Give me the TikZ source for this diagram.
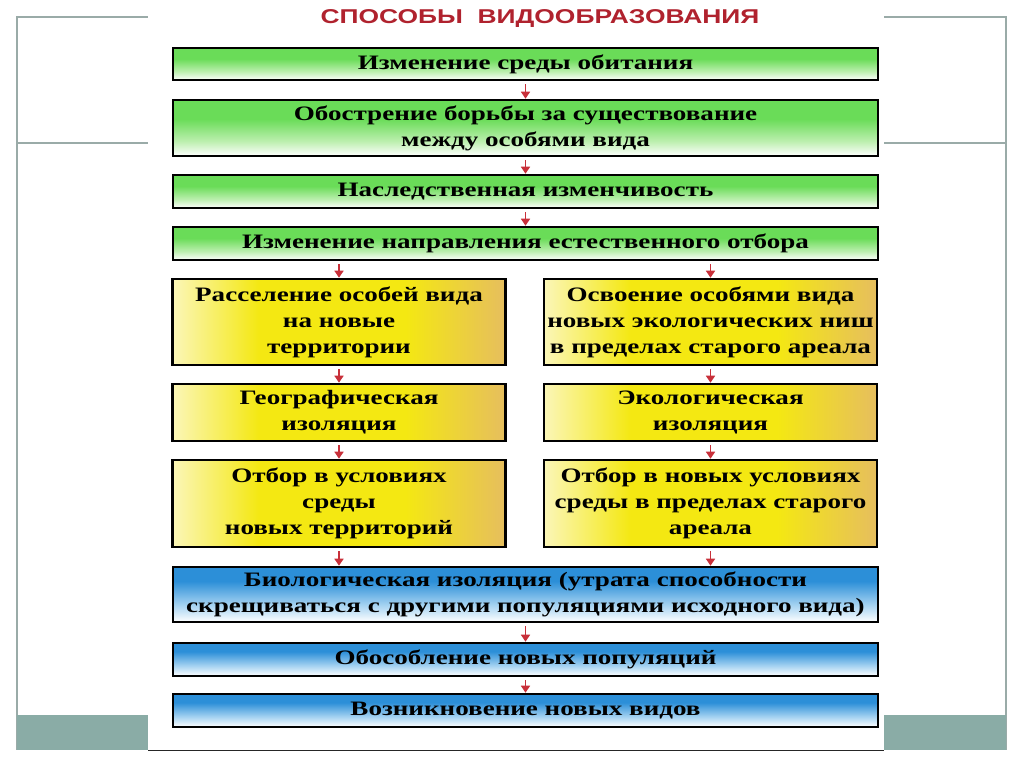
\documentclass[tikz,border=0pt]{standalone}
\usepackage{fontspec}
\setmainfont{Liberation Serif}
\newfontfamily\titlefont[FakeStretch=1.32]{Liberation Sans}
\newfontfamily\boxfont[FakeStretch=1.32]{Liberation Serif}
\usetikzlibrary{arrows.meta}
\definecolor{frameg}{HTML}{9AABA8}
\definecolor{bandg}{HTML}{8AACA6}
\definecolor{titlered}{HTML}{B0222E}
\definecolor{arrred}{HTML}{C8303A}
\definecolor{grA}{HTML}{6ADC58}
\definecolor{grB}{HTML}{BDEFB0}
\definecolor{blA}{HTML}{2C8FD8}
\definecolor{blB}{HTML}{A8D4F2}
\definecolor{yA}{HTML}{FBF6B8}
\definecolor{yB}{HTML}{F4E812}
\definecolor{yC}{HTML}{E6BE5E}
\pgfdeclareverticalshading{greensh}{100bp}{color(0bp)=(white); color(25bp)=(white); color(38bp)=(grB); color(58bp)=(grA); color(75bp)=(grA); color(100bp)=(grA)}
\pgfdeclareverticalshading{bluesh}{100bp}{color(0bp)=(white); color(25bp)=(white); color(40bp)=(blB); color(62bp)=(blA); color(75bp)=(blA); color(100bp)=(blA)}
\pgfdeclarehorizontalshading{yelsh}{100bp}{color(0bp)=(yA); color(25bp)=(yA); color(38bp)=(yB); color(60bp)=(yB); color(75bp)=(yC); color(100bp)=(yC)}
\tikzset{
  box/.style={draw=black, line width=2.6pt, align=center, inner sep=0pt,
    font=\boxfont\fontsize{20.5}{26}\selectfont\bfseries},
  gbox/.style={box, shading=greensh, minimum width=705pt},
  bbox/.style={box, shading=bluesh, minimum width=705pt},
  ybox/.style={box, shading=yelsh, minimum width=333pt},
  arr/.style={draw=arrred, line width=1.6pt, -{Triangle[length=7pt,width=9pt]}, shorten <=3pt},
  frameline/.style={draw=frameg, line width=1.2pt}
}
\begin{document}
\begin{tikzpicture}[x=1pt,y=-1pt]
\useasboundingbox (0,0) rectangle (1024,768);
\fill[white] (0,0) rectangle (1024,768);
% slide frame
\draw[frameline] (148,17) -- (17,17) -- (17,750);
\draw[frameline] (17,143) -- (148,143);
\draw[frameline] (884,17) -- (1006,17) -- (1006,750);
\draw[frameline] (884,143) -- (1006,143);
\fill[bandg] (17,715) rectangle (148,750);
\fill[bandg] (884,715) rectangle (1006,750);
% picture area
\fill[white] (148,0) rectangle (884,750);
\draw[black!85, line width=1pt] (148,750) -- (884,750);
% title
\node[font=\titlefont\fontsize{20}{24}\selectfont\bfseries, text=titlered] (title) at (540,19) {СПОСОБЫ\ \ ВИДООБРАЗОВАНИЯ};
% boxes
\node[gbox, minimum height=32pt] (b1) at (525.5,64) {Изменение среды обитания};
\node[gbox, minimum height=56pt] (b2) at (525.5,128) {Обострение борьбы за существование\\между особями вида};
\node[gbox, minimum height=33pt] (b3) at (525.5,191.5) {Наследственная изменчивость};
\node[gbox, minimum height=33pt] (b4) at (525.5,243.5) {Изменение направления естественного отбора};
\node[ybox, minimum height=86pt] (b5l) at (339,322) {Расселение особей вида\\на новые\\территории};
\node[ybox, minimum height=86pt] (b5r) at (710.5,322) {Освоение особями вида\\новых экологических ниш\\в пределах старого ареала};
\node[ybox, minimum height=57pt] (b6l) at (339,412.5) {Географическая\\изоляция};
\node[ybox, minimum height=57pt] (b6r) at (710.5,412.5) {Экологическая\\изоляция};
\node[ybox, minimum height=87pt] (b7l) at (339,503.5) {Отбор в условиях\\среды\\новых территорий};
\node[ybox, minimum height=87pt] (b7r) at (710.5,503.5) {Отбор в новых условиях\\среды в пределах старого\\ареала};
\node[bbox, minimum height=55pt] (b8) at (525.5,594.5) {Биологическая изоляция (утрата способности\\скрещиваться с другими популяциями исходного вида)};
\node[bbox, minimum height=33pt] (b9) at (525.5,659.5) {Обособление новых популяций};
\node[bbox, minimum height=33pt] (b10) at (525.5,710.5) {Возникновение новых видов};
% arrows
\draw[arr] (b1.south) -- (b2.north);
\draw[arr] (b2.south) -- (b3.north);
\draw[arr] (b3.south) -- (b4.north);
\draw[arr] (b4.south -| b5l.north) -- (b5l.north);
\draw[arr] (b4.south -| b5r.north) -- (b5r.north);
\draw[arr] (b5l.south) -- (b6l.north);
\draw[arr] (b5r.south) -- (b6r.north);
\draw[arr] (b6l.south) -- (b7l.north);
\draw[arr] (b6r.south) -- (b7r.north);
\draw[arr] (b7l.south) -- (b7l.south |- b8.north);
\draw[arr] (b7r.south) -- (b7r.south |- b8.north);
\draw[arr] (b8.south) -- (b9.north);
\draw[arr] (b9.south) -- (b10.north);
\end{tikzpicture}
\end{document}
